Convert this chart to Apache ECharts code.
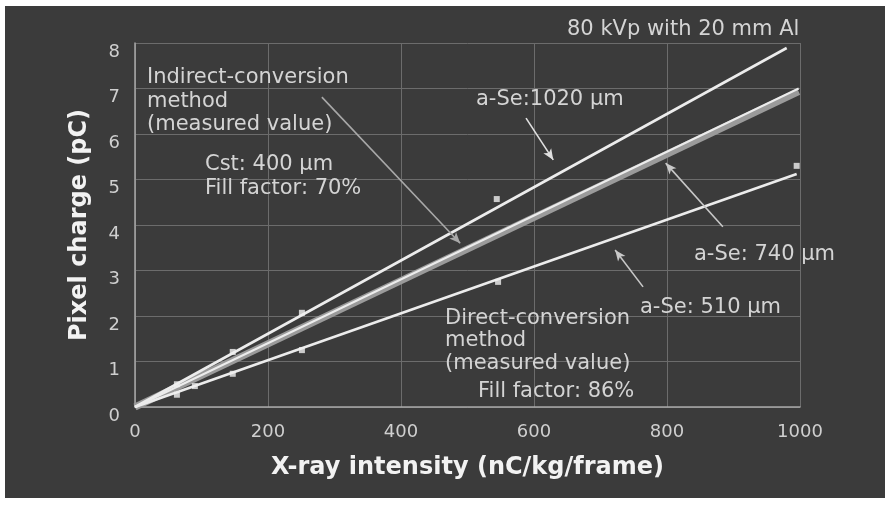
<!DOCTYPE html>
<html><head><meta charset="utf-8">
<script src="https://cdn.jsdelivr.net/npm/echarts@6/dist/echarts.min.js"></script>
<style>html,body{margin:0;padding:0;background:#fff}#c{width:888px;height:508px}</style>
</head><body><div id="c"></div>
<script>
// ---- data ----
const xTicks = [0, 200, 400, 600, 800, 1000];
const yTicks = [0, 1, 2, 3, 4, 5, 6, 7, 8];
const line1020 = [[0, 0], [980, 7.89]];
const line740 = [[0, 0], [998, 7.0]];
const lineIndirect = [[0, 0], [998, 6.93]];
const line510 = [[0, 0], [995, 5.12]];
const pts1020 = [[63, 0.5], [147, 1.21], [251, 2.07], [544, 4.57]];
const pts510 = [[63, 0.27], [90, 0.46], [147, 0.73], [251, 1.25], [546, 2.75], [995, 5.3]];
const arrows = [
  {from: [588, 6.35], to: [629, 5.43], color: '#e0e0e0'},
  {from: [281, 6.81], to: [489, 3.60], color: '#a8a8a8'},
  {from: [884, 3.96], to: [798, 5.36], color: '#c8c8c8'},
  {from: [764, 2.64], to: [722, 3.45], color: '#c8c8c8'}
];
const xName = 'X-ray intensity (nC/kg/frame)';
const yName = 'Pixel charge (pC)';

const FF = "'DejaVu Sans', Verdana, sans-serif";
const txt = '#d4d4d4';
function t(x, y, s, size, lh) {
  return {type: 'text', left: x, top: y, z: 50, silent: true,
    style: {text: s, fill: txt, font: (size || 21) + 'px ' + FF, lineHeight: lh || 23.5}};
}
const chart = echarts.init(document.getElementById('c'), null, {renderer: 'canvas'});
chart.setOption({
  animation: false,
  backgroundColor: '#ffffff',
  grid: {left: 135, right: 88, top: 43, bottom: 101, show: false},
  xAxis: {
    type: 'value', min: 0, max: 1000, interval: 200,
    name: xName, nameLocation: 'middle', nameGap: 49,
    nameTextStyle: {color: '#f2f2f2', fontSize: 24, fontWeight: 'bold', fontFamily: FF},
    axisLine: {show: true, lineStyle: {color: '#a8a8a8', width: 1.5}},
    axisTick: {show: false},
    splitLine: {show: true, lineStyle: {color: '#6c6c6c', width: 1}},
    axisLabel: {color: '#cfcfcf', fontSize: 18, fontFamily: FF, margin: 16,
      formatter: v => xTicks.includes(v) ? String(v) : ''}
  },
  yAxis: {
    type: 'value', min: 0, max: 8, interval: 1,
    name: yName, nameLocation: 'middle', nameGap: 43, nameRotate: 90,
    nameTextStyle: {color: '#f2f2f2', fontSize: 24, fontWeight: 'bold', fontFamily: FF},
    axisLine: {show: true, lineStyle: {color: '#a8a8a8', width: 1.5}},
    axisTick: {show: false},
    splitLine: {show: true, lineStyle: {color: '#6c6c6c', width: 1}},
    axisLabel: {color: '#cfcfcf', fontSize: 18, fontFamily: FF, margin: 15, verticalAlign: 'top',
      formatter: v => yTicks.includes(v) ? String(v) : ''}
  },
  graphic: [
    {type: 'rect', left: 5, top: 6, shape: {width: 880, height: 492}, style: {fill: '#3b3b3b'}, z: -100, silent: true},
    t(567, 18, '80 kVp with 20 mm Al', 21),
    t(147, 66, 'Indirect-conversion\nmethod\n(measured value)'),
    t(205, 153, 'Cst: 400 μm\nFill factor: 70%'),
    t(476, 88, 'a-Se:1020 μm'),
    t(694, 243, 'a-Se: 740 μm'),
    t(640, 296, 'a-Se: 510 μm'),
    t(445, 307, 'Direct-conversion\nmethod\n(measured value)', 21, 22.5),
    t(478, 380, 'Fill factor: 86%')
  ],
  series: [
    {type: 'line', data: lineIndirect, symbol: 'none', lineStyle: {color: '#9a9a9a', width: 7}, z: 2},
    {type: 'line', data: line740, symbol: 'none', lineStyle: {color: '#ececec', width: 2}, z: 3},
    {type: 'line', data: line1020, symbol: 'none', lineStyle: {color: '#ececec', width: 2.6}, z: 3},
    {type: 'line', data: line510, symbol: 'none', lineStyle: {color: '#ececec', width: 2.6}, z: 3},
    {type: 'scatter', data: pts1020.concat(pts510), symbol: 'rect', symbolSize: 6,
      itemStyle: {color: '#f0f0f0'}, z: 4},
    {type: 'line', data: [], symbol: 'none', z: 5,
      markLine: {silent: true, symbol: ['none', 'arrow'], symbolSize: [7, 11], label: {show: false},
        data: arrows.map(a => [{coord: a.from, lineStyle: {color: a.color, width: 1.6, type: 'solid'}}, {coord: a.to}])}}
  ]
});
</script></body></html>
